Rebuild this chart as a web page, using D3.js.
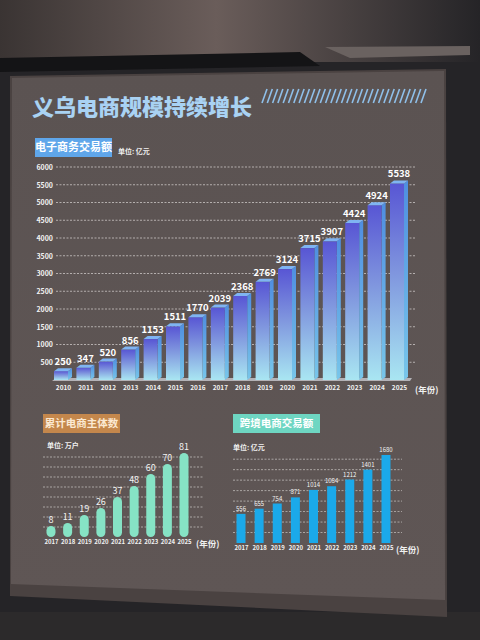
<!DOCTYPE html>
<html><head><meta charset="utf-8">
<script src="https://cdn.jsdelivr.net/npm/d3@7"></script>
<style>html,body{margin:0;padding:0;background:#222;}svg{display:block;}</style>
</head><body>
<script>
// ---- data ----
const mainYears = ["2010","2011","2012","2013","2014","2015","2016","2017","2018","2019","2020","2021","2022","2023","2024","2025"];
const mainValues = [250,347,520,856,1153,1511,1770,2039,2368,2769,3124,3715,3907,4424,4924,5538];
const mainTicks = [500,1000,1500,2000,2500,3000,3500,4000,4500,5000,5500,6000];
const subYears = ["2017","2018","2019","2020","2021","2022","2023","2024","2025"];
const entValues = [8,11,19,26,37,48,60,70,81];
const entGrid = [10,20,30,40,50,60,70,80];
const cbValues = [556,655,754,871,1014,1084,1212,1401,1680];
const cbGrid = [200,400,600,800,1000,1200,1400,1600];
const title = "义乌电商规模持续增长";
const mainLabel = "电子商务交易额", mainUnit = "单位: 亿元";
const entLabel = "累计电商主体数", entUnit = "单位: 万户";
const cbLabel = "跨境电商交易额", cbUnit = "单位: 亿元";
const yearUnit = "(年份)";

const W = 480, H = 640;
const FONT = "'Noto Sans CJK SC','Noto Sans',sans-serif";
const svg = d3.select("body").append("svg").attr("width", W).attr("height", H);
const defs = svg.append("defs");

// ---- background scene ----
const bg = defs.append("linearGradient").attr("id","bgTop").attr("x1",0).attr("x2",1).attr("y1",0).attr("y2",0);
bg.append("stop").attr("offset","0").attr("stop-color","#3a3433");
bg.append("stop").attr("offset","0.45").attr("stop-color","#6a5d5a");
bg.append("stop").attr("offset","1").attr("stop-color","#252427");
svg.append("rect").attr("width",W).attr("height",H).attr("fill","#252427");
svg.append("rect").attr("width",W).attr("height",62).attr("fill","url(#bgTop)");
// vent strip
svg.append("path").attr("d","M0,58 L300,52 L320,66 L0,72 Z").attr("fill","#141416");
svg.append("path").attr("d","M325,47 L470,46 L470,55 L350,58 Z").attr("fill","#6a6260");
svg.append("rect").attr("x",0).attr("y",612).attr("width",W).attr("height",28).attr("fill","#2c2a2b");

// board
svg.append("path").attr("d","M10,76 L446,69 L447,617 L10,596 Z").attr("fill","#4a4241");
const bgrad = defs.append("linearGradient").attr("id","board").attr("x1",0).attr("x2",0).attr("y1",0).attr("y2",1);
bgrad.append("stop").attr("offset","0").attr("stop-color","#5b5352");
bgrad.append("stop").attr("offset","1").attr("stop-color","#5f5655");
svg.append("path").attr("d","M12,78 L444,71 L445,600 L11,584 Z").attr("fill","url(#board)");

// ---- title ----
svg.append("text").attr("x",32).attr("y",115).attr("font-family",FONT).attr("font-weight",900)
  .attr("font-size",22).attr("fill","#a9d2f3").text(title);
const stripes = svg.append("g").attr("stroke","#8fc0ea").attr("stroke-width",1.6);
d3.range(262, 424, 5.3).forEach(x => {
  stripes.append("line").attr("x1",x).attr("y1",103).attr("x2",x+5).attr("y2",89);
});

function labelBox(x, y, w, h, fill, txt, txtFill, fs){
  svg.append("rect").attr("x",x).attr("y",y).attr("width",w).attr("height",h).attr("fill",fill);
  svg.append("text").attr("x",x+w/2).attr("y",y+h/2+fs*0.36).attr("text-anchor","middle")
    .attr("font-family",FONT).attr("font-weight",700).attr("font-size",fs).attr("fill",txtFill).text(txt);
}
function unitText(x, y, txt, fs){
  svg.append("text").attr("x",x).attr("y",y).attr("font-family",FONT).attr("font-weight",700)
    .attr("font-size",fs).attr("fill","#f0f0f0").text(txt);
}

// ---- main chart ----
labelBox(35,138,77,19,"#5fa6ea",mainLabel,"#ffffff",11);
unitText(118,154,mainUnit,7);

const x = d3.scalePoint().domain(mainYears).range([62,398]);
const y = d3.scaleLinear().domain([0,6000]).range([380,167]);

const grid = svg.append("g");
mainTicks.forEach(t => {
  grid.append("line").attr("x1",56).attr("x2",416).attr("y1",y(t)).attr("y2",y(t))
    .attr("stroke","#d8d4d2").attr("stroke-width",0.9).attr("stroke-dasharray","2,1.5").attr("opacity",0.8);
});
const yAxis = d3.axisLeft(y).tickValues(mainTicks).tickFormat(d3.format("d")).tickSize(0).tickPadding(0);
const ya = svg.append("g").attr("transform","translate(53,0)").call(yAxis);
ya.select(".domain").remove();
ya.selectAll("text").attr("font-family",FONT).attr("font-size",7).attr("font-weight",700).attr("fill","#f2f2f2");

// floor
svg.append("path").attr("d","M52,381 L410,381 L412,378 L56,378 Z").attr("fill","#c9c9d0").attr("opacity",0.8);

const g1 = defs.append("linearGradient").attr("id","barFront").attr("x1",0).attr("x2",0).attr("y1",0).attr("y2",1);
g1.append("stop").attr("offset","0").attr("stop-color","#5856d4");
g1.append("stop").attr("offset","0.45").attr("stop-color","#7f95de");
g1.append("stop").attr("offset","1").attr("stop-color","#a9e6f2");
const g2 = defs.append("linearGradient").attr("id","barSide").attr("x1",0).attr("x2",0).attr("y1",0).attr("y2",1);
g2.append("stop").attr("offset","0").attr("stop-color","#4f8ee0");
g2.append("stop").attr("offset","1").attr("stop-color","#78c6ea");

const bw = 14, dx = 4, dy = 3;
const bars = svg.append("g");
mainYears.forEach((yr,i) => {
  const cx = x(yr), x0 = cx - bw/2 - 1, top = y(mainValues[i]), bot = y(0);
  bars.append("path").attr("d",`M${x0+bw},${top} L${x0+bw+dx},${top-dy} L${x0+bw+dx},${bot-dy} L${x0+bw},${bot} Z`).attr("fill","url(#barSide)");
  bars.append("rect").attr("x",x0).attr("y",top).attr("width",bw).attr("height",bot-top).attr("fill","url(#barFront)");
  bars.append("path").attr("d",`M${x0},${top} L${x0+dx},${top-dy} L${x0+bw+dx},${top-dy} L${x0+bw},${top} Z`).attr("fill","#7fb4f2");
  bars.append("text").attr("x",cx+1).attr("y",top-6).attr("text-anchor","middle")
    .attr("font-family",FONT).attr("font-weight",700).attr("font-size",9.5).attr("fill","#ffffff").text(mainValues[i]);
});
const xAxis = d3.axisBottom(x).tickSize(0).tickPadding(0);
const xa = svg.append("g").attr("transform","translate(1,385)").call(xAxis);
xa.select(".domain").remove();
xa.selectAll("text").attr("font-family",FONT).attr("font-size",6.5).attr("font-weight",700).attr("fill","#f2f2f2");
unitText(415,393,yearUnit,8.5);

// ---- enterprise count chart ----
labelBox(43,414,77,19,"#c4874c",entLabel,"#fbe9d2",10.5);
unitText(47,448,entUnit,7);
const xe = d3.scalePoint().domain(subYears).range([51,184]);
const ye = d3.scaleLinear().domain([0,81]).range([537,456]);
entGrid.forEach(t => {
  svg.append("line").attr("x1",43).attr("x2",203).attr("y1",ye(t)).attr("y2",ye(t))
    .attr("stroke","#d8d4d2").attr("stroke-width",0.8).attr("stroke-dasharray","2,1.5").attr("opacity",0.8);
});
subYears.forEach((yr,i) => {
  const top = ye(entValues[i]) - 3, bot = ye(0);
  svg.append("rect").attr("x",xe(yr)-4.5).attr("y",top).attr("width",9).attr("height",bot-top)
    .attr("rx",4.5).attr("fill","#86e3c5");
  svg.append("text").attr("x",xe(yr)).attr("y",top-3).attr("text-anchor","middle")
    .attr("font-family",FONT).attr("font-size",9).attr("fill","#f2f2f2").text(entValues[i]);
});
const xea = svg.append("g").attr("transform","translate(0,540)").call(d3.axisBottom(xe).tickSize(0).tickPadding(0));
xea.select(".domain").remove();
xea.selectAll("text").attr("font-family",FONT).attr("font-size",6).attr("font-weight",700).attr("fill","#f2f2f2");
unitText(196,547,yearUnit,8.5);

// ---- cross-border chart ----
labelBox(233,414,87,19,"#6ed6c2",cbLabel,"#ffffff",10.5);
unitText(233,450,cbUnit,7);
const xc = d3.scalePoint().domain(subYears).range([241,386]);
const yc = d3.scaleLinear().domain([0,1680]).range([543,455]);
cbGrid.forEach(t => {
  svg.append("line").attr("x1",233).attr("x2",402).attr("y1",yc(t)).attr("y2",yc(t))
    .attr("stroke","#d8d4d2").attr("stroke-width",0.8).attr("stroke-dasharray","2,1.5").attr("opacity",0.8);
});
subYears.forEach((yr,i) => {
  const top = yc(cbValues[i]), bot = yc(0);
  svg.append("rect").attr("x",xc(yr)-4.5).attr("y",top).attr("width",9).attr("height",bot-top).attr("fill","#1ba9ea");
  svg.append("text").attr("x",xc(yr)).attr("y",top-3).attr("text-anchor","middle")
    .attr("font-family",FONT).attr("font-size",6).attr("fill","#f2f2f2").text(cbValues[i]);
});
const xca = svg.append("g").attr("transform","translate(0,546)").call(d3.axisBottom(xc).tickSize(0).tickPadding(0));
xca.select(".domain").remove();
xca.selectAll("text").attr("font-family",FONT).attr("font-size",6).attr("font-weight",700).attr("fill","#f2f2f2");
unitText(396,553,yearUnit,8.5);
</script>
</body></html>
